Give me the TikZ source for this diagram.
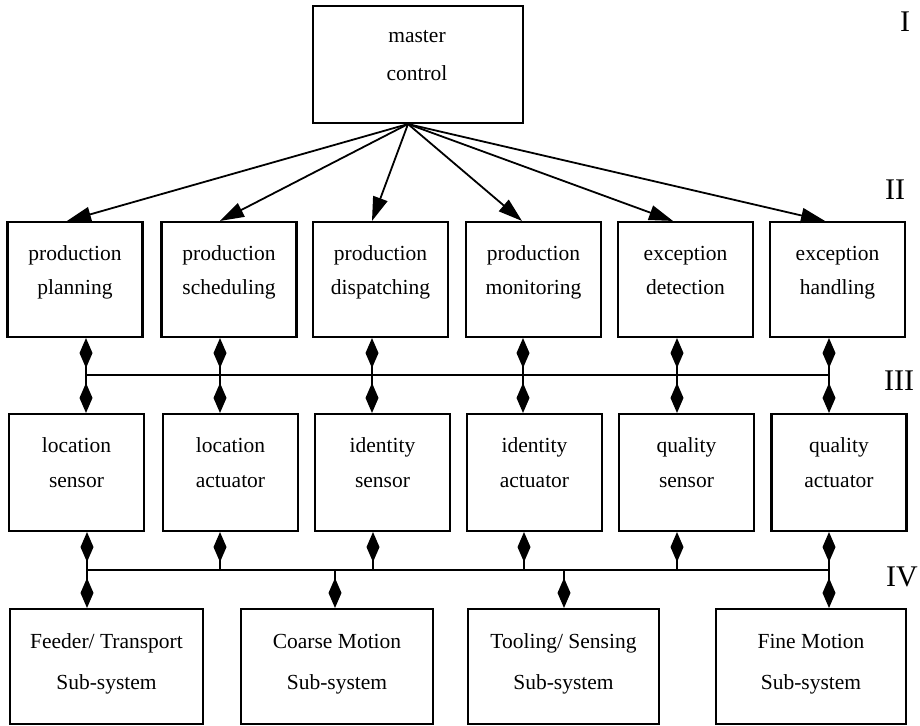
\documentclass[tikz,border=0pt]{standalone}
\usepackage{fontspec}
\setmainfont{Liberation Serif}
\usetikzlibrary{arrows.meta,calc}
\begin{document}
\begin{tikzpicture}[x=1pt,y=-1pt,
  box/.style={draw, line width=2.1pt, inner sep=0pt, minimum width=135pt, minimum height=115pt},
  lbl/.style={font=\fontsize{21.5}{21.5}\selectfont, inner sep=0pt, anchor=base},
  lvl/.style={font=\fontsize{30}{30}\selectfont, inner sep=0pt},
  cmd/.style={line width=1.8pt, -{Triangle[length=24pt,width=15pt]}},
  link/.style={line width=2pt, -{Diamond[length=30pt,width=13pt]}},
  bus/.style={line width=2pt}]
\useasboundingbox (0,0) rectangle (920,725);

% level I: master control
\node[box, minimum width=210pt, minimum height=117pt] (master) at (418,64.5) {};
\node[lbl] (master-a) at (417,42) {master};
\node[lbl] (master-b) at (417,80) {control};

% level II: production functions
\foreach \n/\x/\a/\b in {p1/75/production/planning, p2/229/production/scheduling,
    p3/380.5/production/dispatching, p4/533.5/production/monitoring,
    p5/685.5/exception/detection, p6/837.5/exception/handling} {
  \node[box] (\n) at (\x,279.5) {};
  \node[lbl] (\n-a) at (\x,260) {\a};
  \node[lbl] (\n-b) at (\x,294) {\b};
}

% level III: sensors and actuators
\foreach \n/\x/\a/\b in {s1/76.5/location/sensor, s2/230.5/location/actuator,
    s3/382.5/identity/sensor, s4/534.5/identity/actuator,
    s5/686.5/quality/sensor, s6/839/quality/actuator} {
  \node[box, minimum height=117pt] (\n) at (\x,472.5) {};
  \node[lbl] (\n-a) at (\x,452) {\a};
  \node[lbl] (\n-b) at (\x,487) {\b};
}

% level IV: sub-systems
\node[box, minimum width=193pt] (f1) at (106.5,666.5) {};
\node[lbl] (f1-a) at (106.5,648) {Feeder/ Transport};
\node[lbl] (f1-b) at (106.5,689) {Sub-system};
\node[box, minimum width=192pt] (f2) at (337,666.5) {};
\node[lbl] (f2-a) at (337,648) {Coarse Motion};
\node[lbl] (f2-b) at (337,689) {Sub-system};
\node[box, minimum width=191pt] (f3) at (563.5,666.5) {};
\node[lbl] (f3-a) at (563.5,648) {Tooling/ Sensing};
\node[lbl] (f3-b) at (563.5,689) {Sub-system};
\node[box, minimum width=190pt] (f4) at (811,666.5) {};
\node[lbl] (f4-a) at (811,648) {Fine Motion};
\node[lbl] (f4-b) at (811,689) {Sub-system};

% level numerals
\node[lvl] (lv1) at (905,22) {I};
\node[lvl] (lv2) at (895,190) {II};
\node[lvl] (lv3) at (899,381) {III};
\node[lvl] (lv4) at (902,577) {IV};

% commands from master control
\coordinate (src) at ([xshift=-10pt]master.south);
\draw[cmd] (src) -- ([xshift=-8pt]p1.north);
\draw[cmd] (src) -- ([xshift=-9pt]p2.north);
\draw[cmd] (src) -- ([xshift=-8.5pt]p3.north);
\draw[cmd] (src) -- ([xshift=-11.5pt]p4.north);
\draw[cmd] (src) -- ([xshift=-12.5pt]p5.north);
\draw[cmd] (src) -- ([xshift=-12.5pt]p6.north);

% bus between levels II and III
\foreach \i/\x in {1/86, 2/220, 3/372, 4/523, 5/677, 6/829}
  \coordinate (j\i) at (\x,375);
\draw[bus] (j1) -- (j6);
\foreach \i in {1,...,6} {
  \draw[link] (j\i) -- (j\i |- p\i.south);
  \draw[link] (j\i) -- (j\i |- s\i.north);
}

% bus between levels III and IV
\foreach \i/\x in {1/87, 2/220, 3/373, 4/524, 5/677, 6/829}
  \coordinate (k\i) at (\x,570);
\foreach \i/\x in {1/87, 2/335, 3/564, 4/829}
  \coordinate (m\i) at (\x,570);
\draw[bus] (k1) -- (k6);
\foreach \i in {1,...,6}
  \draw[link] (k\i) -- (k\i |- s\i.south);
\foreach \i in {1,...,4}
  \draw[link] (m\i) -- (m\i |- f\i.north);
\end{tikzpicture}
\end{document}
